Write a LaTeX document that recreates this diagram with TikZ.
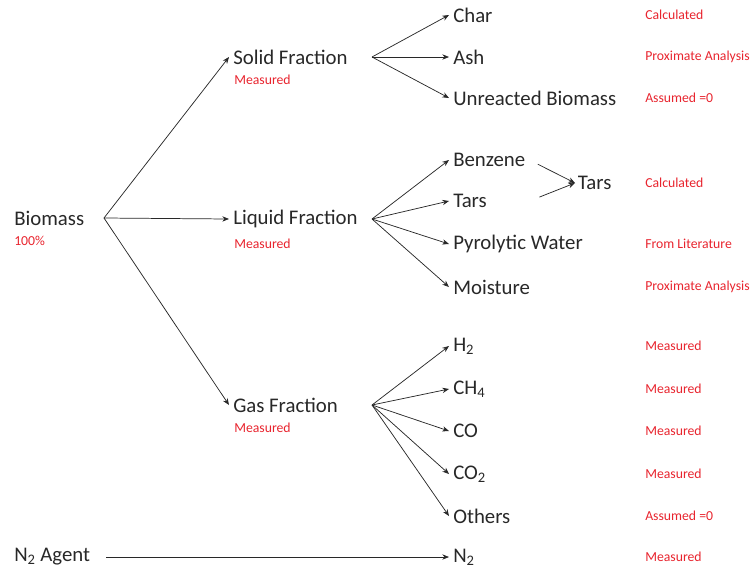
\documentclass[tikz,border=0pt]{standalone}
\usepackage{fontspec}
\setmainfont{Carlito}
\usetikzlibrary{arrows.meta}
\definecolor{notered}{RGB}{232,36,46}
\definecolor{ink}{RGB}{40,40,40}
\tikzset{
  item/.style={anchor=west, inner xsep=3pt, inner ysep=1pt, text=ink, font=\fontsize{15.6}{18}\selectfont},
  note/.style={anchor=west, inner sep=0pt, text=notered, font=\fontsize{10.3}{12}\selectfont},
  flow/.style={->, draw=ink, line width=0.55pt}
}
\begin{document}
\begin{tikzpicture}[x=0.75pt, y=-0.75pt, >={Stealth[length=5pt,width=4pt]}]
\useasboundingbox (0,0) rectangle (753,572);

% feed
\node [item, inner xsep=0pt] (biomass) at (14,218) {Biomass};
\node [note] (full) at (14,241) {100\%};
\node [item, inner xsep=0pt] (agent) at (14,557) {N\textsubscript{2} Agent};

% fractions
\node [item] (solid) at (229,57) {Solid Fraction};
\node [item] (liquid) at (229,219) {Liquid Fraction};
\node [item] (gas) at (229,405) {Gas Fraction};
\node [note] (solidm) at (234,80) {Measured};
\node [note] (liquidm) at (234,244) {Measured};
\node [note] (gasm) at (234,428) {Measured};

\coordinate (bsplit) at (104,218);
\coordinate (ssplit) at (372,57);
\coordinate (lsplit) at (372,219);
\coordinate (gsplit) at (372,405);

\draw [flow] (bsplit) -- (solid.west);
\draw [flow] (bsplit) -- (liquid.west);
\draw [flow] (bsplit) -- (gas.west);

% products
\foreach \n/\t/\y in {char/Char/15, ash/Ash/57, unreacted/Unreacted Biomass/98}
  {\node [item] (\n) at (449,\y) {\t};
   \draw [flow] (ssplit) -- (\n.west);}

\foreach \n/\t/\y in {benzene/Benzene/160, tars/Tars/201, water/Pyrolytic Water/244, moisture/Moisture/287}
  {\node [item] (\n) at (449,\y) {\t};
   \draw [flow] (lsplit) -- (\n.west);}

\foreach \n/\t/\y in {htwo/H\textsubscript{2}/346, methane/CH\textsubscript{4}/389, co/CO/431, cotwo/CO\textsubscript{2}/474, others/Others/516}
  {\node [item] (\n) at (449,\y) {\t};
   \draw [flow] (gsplit) -- (\n.west);}

\node [item] (ntwo) at (449,557) {N\textsubscript{2}};
\draw [flow, shorten <=12pt] (agent.east) -- (ntwo.west);

% lumped tars
\node [item, inner xsep=2pt] (tarsall) at (575,183) {Tars};
\draw [flow, shorten <=7pt] (benzene.east) -- (tarsall.west);
\draw [flow, shorten <=8pt] (tars.east -| benzene.east) -- (tarsall.west);

% sources
\foreach \y/\t in {15/Calculated, 57/Proximate Analysis, 98/Assumed =0, 183/Calculated,
                   244/From Literature, 287/Proximate Analysis, 346/Measured, 389/Measured,
                   431/Measured, 474/Measured, 516/Assumed =0, 557/Measured}
  \node [note] (src\y) at (645,\y) {\t};

\end{tikzpicture}
\end{document}
